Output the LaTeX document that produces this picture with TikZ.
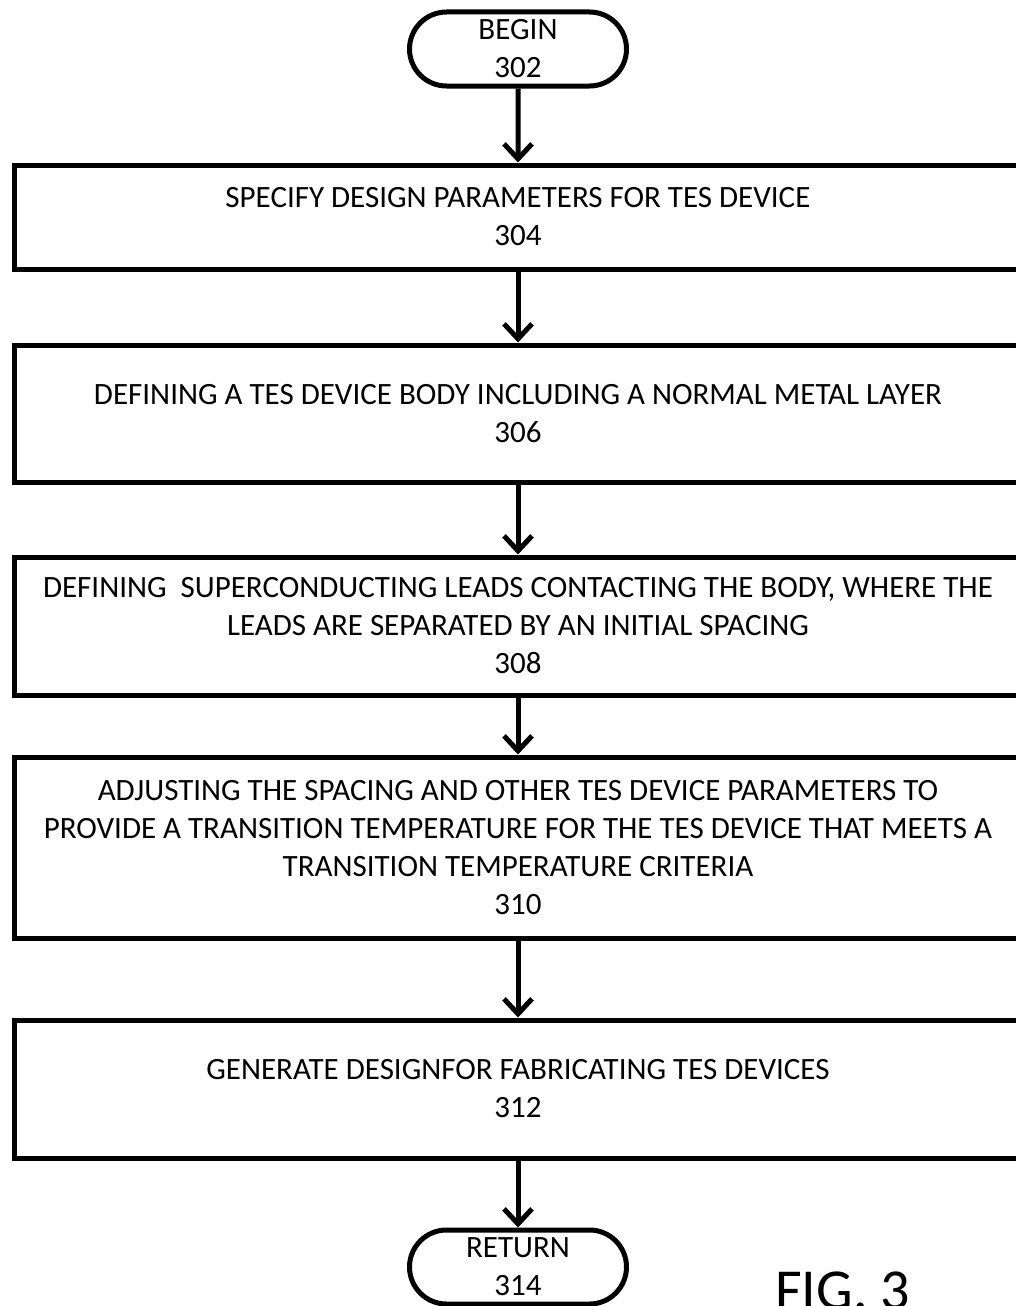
\documentclass[tikz,border=0pt]{standalone}
\usepackage{fontspec}
\setmainfont{Carlito}
\usetikzlibrary{arrows.meta,shapes.misc}
\tikzset{
  stepbox/.style={draw, line width=5pt, rectangle, minimum width=1008pt, align=center,
    font=\fontsize{31}{38}\selectfont, inner sep=0pt},
  term/.style={draw, line width=5pt, rounded rectangle, minimum width=217pt, minimum height=74pt,
    align=center, font=\fontsize{31}{38}\selectfont, inner sep=0pt},
  arr/.style={line width=5pt, -{Straight Barb[length=15pt,width=28pt,line width=5pt]}}
}
\begin{document}
\begin{tikzpicture}[x=1pt,y=-1pt]
\useasboundingbox (0,0) rectangle (1016,1306);
\clip (0,0) rectangle (1016,1306);
\fill[white] (0,0) rectangle (1016,1306);
\node[term] (begin) at (518,49) {BEGIN\\302};
\node[stepbox, minimum height=104pt] (b304) at (518,217) {SPECIFY DESIGN PARAMETERS FOR TES DEVICE\\304};
\node[stepbox, minimum height=137pt] (b306) at (518,413.5) {DEFINING A TES DEVICE BODY INCLUDING A NORMAL METAL LAYER\\306};
\node[stepbox, minimum height=138pt] (b308) at (518,626) {DEFINING\ \ SUPERCONDUCTING LEADS CONTACTING THE BODY, WHERE THE\\LEADS ARE SEPARATED BY AN INITIAL SPACING\\308};
\node[stepbox, minimum height=181pt] (b310) at (518,847.5) {ADJUSTING THE SPACING AND OTHER TES DEVICE PARAMETERS TO\\PROVIDE A TRANSITION TEMPERATURE FOR THE TES DEVICE THAT MEETS A\\TRANSITION TEMPERATURE CRITERIA\\310};
\node[stepbox, minimum height=138pt] (b312) at (518,1089) {GENERATE DESIGNFOR FABRICATING TES DEVICES\\312};
\node[term] (ret) at (518,1267) {RETURN\\314};
\draw[arr] (begin) -- (b304);
\draw[arr] (b304) -- (b306);
\draw[arr] (b306) -- (b308);
\draw[arr] (b308) -- (b310);
\draw[arr] (b310) -- (b312);
\draw[arr] (b312) -- (ret);
\node[anchor=base west, inner sep=0pt, font=\fontsize{58}{58}\selectfont] (fig) at (775,1309) {FIG. 3};
\end{tikzpicture}
\end{document}
